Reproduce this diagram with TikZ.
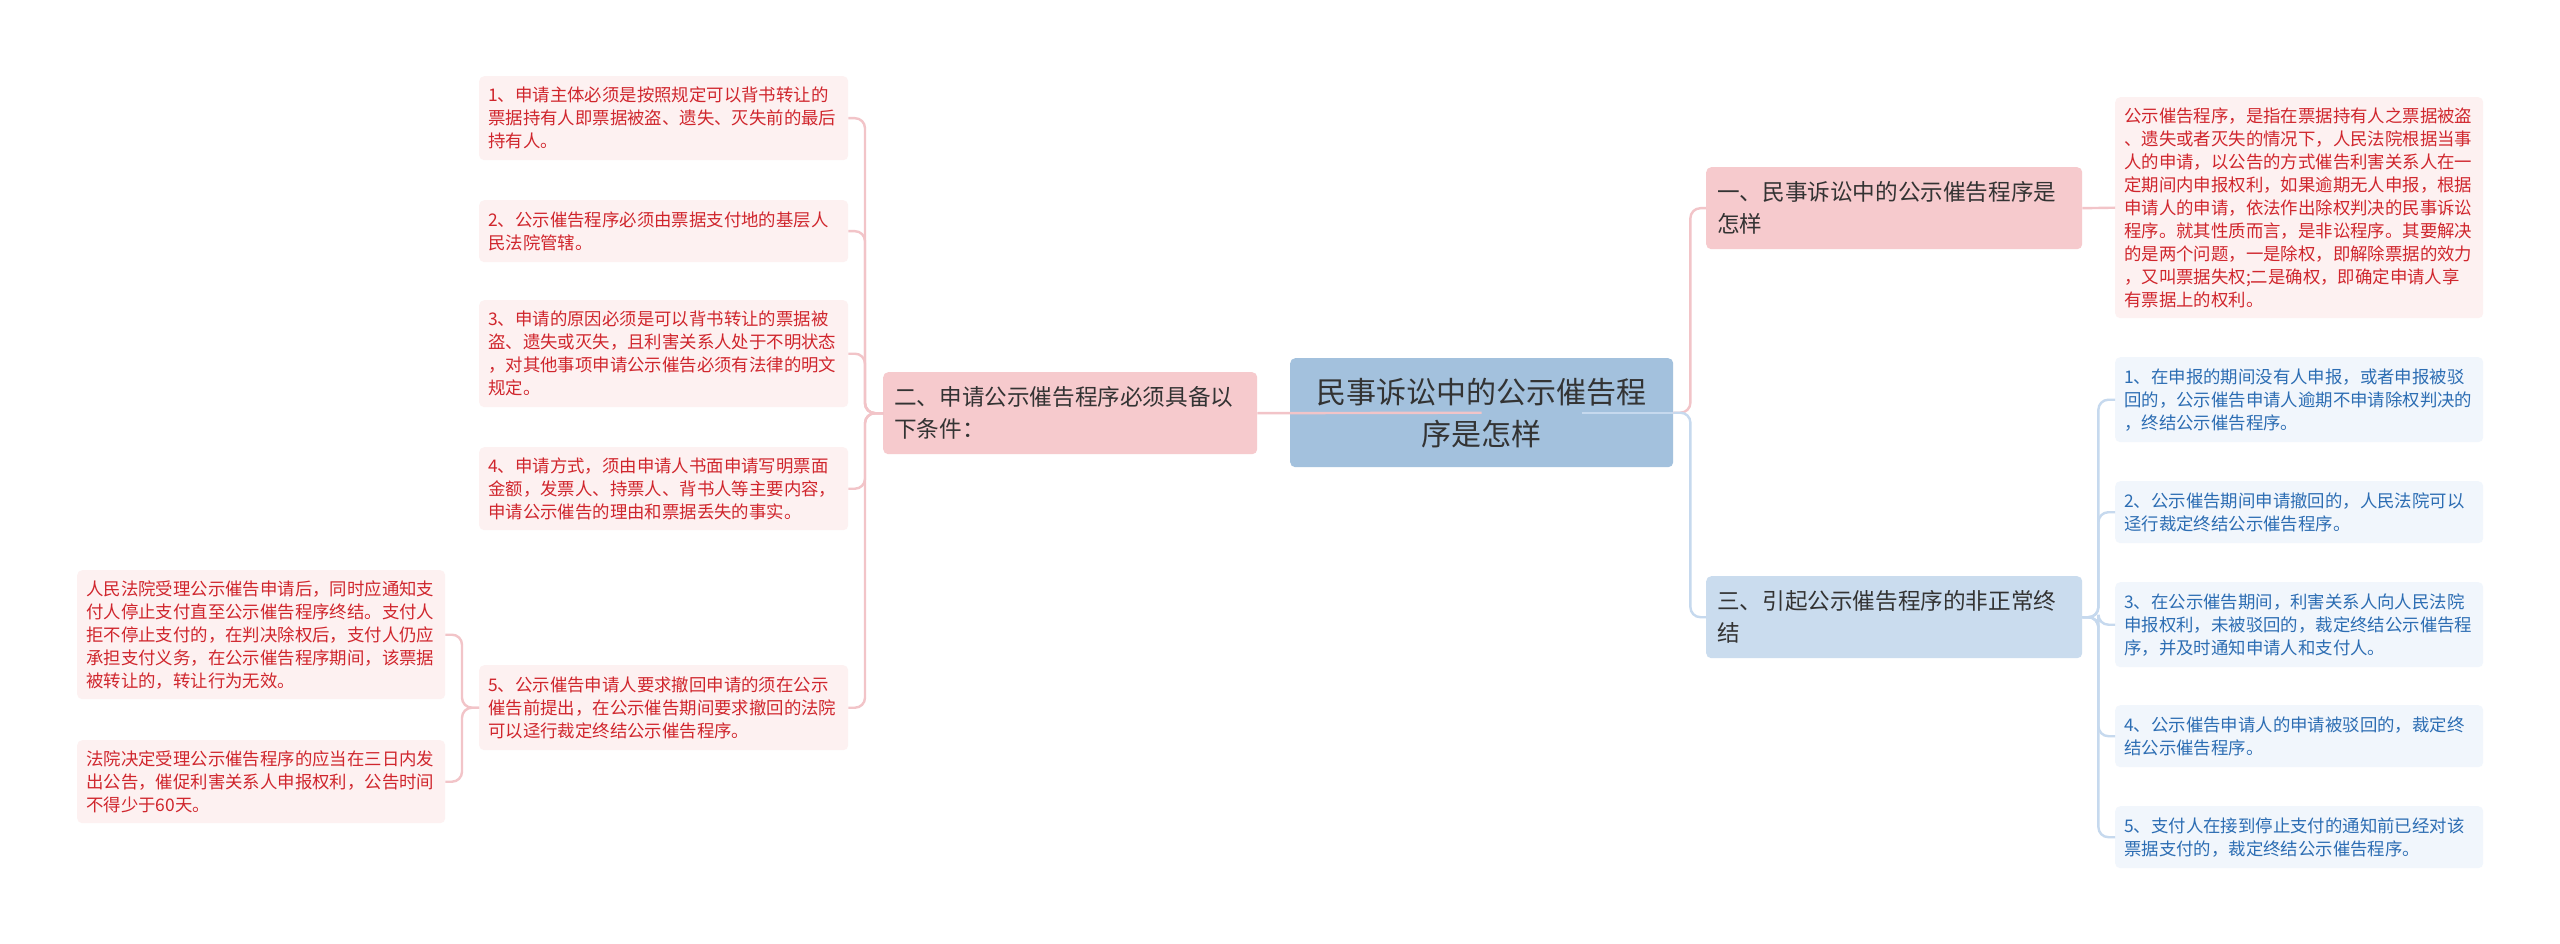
\documentclass[tikz,border=0pt]{standalone}
\usepackage{fontspec}
\setmainfont{Noto Sans CJK SC}
\definecolor{centerfill}{HTML}{A3C1DD}
\definecolor{pinkmain}{HTML}{F6CACD}
\definecolor{bluemain}{HTML}{CADCEE}
\definecolor{pinkleaf}{HTML}{FDF1F1}
\definecolor{blueleaf}{HTML}{F1F6FC}
\definecolor{redtext}{HTML}{D0262D}
\definecolor{bluetext}{HTML}{2C6DB3}
\definecolor{pinkcon}{HTML}{F2C4C8}
\definecolor{bluecon}{HTML}{C6D9EE}
\definecolor{darktext}{HTML}{333333}
\tikzset{
  box/.style={rounded corners=5pt, anchor=north west, inner ysep=0pt, align=left},
  leafR/.style={box, fill=pinkleaf, text=redtext, inner xsep=9pt, font=\fontsize{17.4}{23}\selectfont},
  leafB/.style={box, fill=blueleaf, text=bluetext, inner xsep=9pt, font=\fontsize{17.4}{23}\selectfont},
  mainR/.style={box, fill=pinkmain, text=darktext, inner xsep=11pt, font=\fontsize{22.6}{32}\selectfont},
  mainB/.style={box, fill=bluemain, text=darktext, inner xsep=11pt, font=\fontsize{22.6}{32}\selectfont},
  linkR/.style={draw=pinkcon, line width=2.4pt},
  linkB/.style={draw=bluecon, line width=2.4pt},
}
\begin{document}
\begin{tikzpicture}[x=1pt,y=-1pt]
\useasboundingbox (0,0) rectangle (2560,944);
\fill[white] (0,0) rectangle (2560,944);

% center
\node[box, anchor=north west, fill=centerfill, text=darktext, align=center, text width=383pt, inner xsep=0pt, minimum height=109pt, font=\fontsize{30}{42}\selectfont] (c) at (1290,358) {民事诉讼中的公示催告程\\序是怎样};

% main branches
\node[mainR, text width=352pt, minimum height=82pt] (n2) at (883,372) {二、申请公示催告程序必须具备以\\下条件：};
\node[mainR, text width=354pt, minimum height=82pt] (n1) at (1706,167) {一、民事诉讼中的公示催告程序是\\怎样};
\node[mainB, text width=354pt, minimum height=82pt] (n3) at (1706,576) {三、引起公示催告程序的非正常终\\结};

% left leaves
\node[leafR, text width=351pt, minimum height=84pt] (b1) at (479,76) {1、申请主体必须是按照规定可以背书转让的\\票据持有人即票据被盗、遗失、灭失前的最后\\持有人。};
\node[leafR, text width=351pt, minimum height=62pt] (b2) at (479,200) {2、公示催告程序必须由票据支付地的基层人\\民法院管辖。};
\node[leafR, text width=351pt, minimum height=107pt] (b3) at (479,300) {3、申请的原因必须是可以背书转让的票据被\\盗、遗失或灭失，且利害关系人处于不明状态\\，对其他事项申请公示催告必须有法律的明文\\规定。};
\node[leafR, text width=351pt, minimum height=83pt] (b4) at (479,447) {4、申请方式，须由申请人书面申请写明票面\\金额，发票人、持票人、背书人等主要内容，\\申请公示催告的理由和票据丢失的事实。};
\node[leafR, text width=351pt, minimum height=85pt] (b5) at (479,665) {5、公示催告申请人要求撤回申请的须在公示\\催告前提出，在公示催告期间要求撤回的法院\\可以迳行裁定终结公示催告程序。};
\node[leafR, text width=350pt, minimum height=129pt] (a1) at (77,570) {人民法院受理公示催告申请后，同时应通知支\\付人停止支付直至公示催告程序终结。支付人\\拒不停止支付的，在判决除权后，支付人仍应\\承担支付义务，在公示催告程序期间，该票据\\被转让的，转让行为无效。};
\node[leafR, text width=350pt, minimum height=83pt] (a2) at (77,740) {法院决定受理公示催告程序的应当在三日内发\\出公告，催促利害关系人申报权利，公告时间\\不得少于60天。};

% right leaves
\node[leafR, text width=350pt, minimum height=221pt] (p1) at (2115,97) {公示催告程序，是指在票据持有人之票据被盗\\、遗失或者灭失的情况下，人民法院根据当事\\人的申请，以公告的方式催告利害关系人在一\\定期间内申报权利，如果逾期无人申报，根据\\申请人的申请，依法作出除权判决的民事诉讼\\程序。就其性质而言，是非讼程序。其要解决\\的是两个问题，一是除权，即解除票据的效力\\，又叫票据失权;二是确权，即确定申请人享\\有票据上的权利。};
\node[leafB, text width=350pt, minimum height=85pt] (r1) at (2115,357) {1、在申报的期间没有人申报，或者申报被驳\\回的，公示催告申请人逾期不申请除权判决的\\，终结公示催告程序。};
\node[leafB, text width=350pt, minimum height=62pt] (r2) at (2115,481) {2、公示催告期间申请撤回的，人民法院可以\\迳行裁定终结公示催告程序。};
\node[leafB, text width=350pt, minimum height=85pt] (r3) at (2115,582) {3、在公示催告期间，利害关系人向人民法院\\申报权利，未被驳回的，裁定终结公示催告程\\序，并及时通知申请人和支付人。};
\node[leafB, text width=350pt, minimum height=62pt] (r4) at (2115,705) {4、公示催告申请人的申请被驳回的，裁定终\\结公示催告程序。};
\node[leafB, text width=350pt, minimum height=62pt] (r5) at (2115,806) {5、支付人在接到停止支付的通知前已经对该\\票据支付的，裁定终结公示催告程序。};

% connectors
\draw[linkR] (n2.east) -- (c.center);
\draw[linkB] (c.center) ++(100,0) -- (c.east);
\draw[linkR, rounded corners=10pt] (c.east) -- ++(17,0) |- (n1.west);
\draw[linkB, rounded corners=10pt] (c.east) -- ++(17,0) |- (n3.west);
\draw[linkR] (n1.east) -- (p1.west);
\foreach \t in {r1,r2,r3,r4,r5}
  \draw[linkB, rounded corners=10pt] (n3.east) -- ++(16,0) |- (\t.west);
\foreach \t in {b1,b2,b3,b4,b5}
  \draw[linkR, rounded corners=10pt] (n2.west) -- ++(-18,0) |- (\t.east);
\foreach \t in {a1,a2}
  \draw[linkR, rounded corners=10pt] (b5.west) -- ++(-17,0) |- (\t.east);
\end{tikzpicture}
\end{document}
